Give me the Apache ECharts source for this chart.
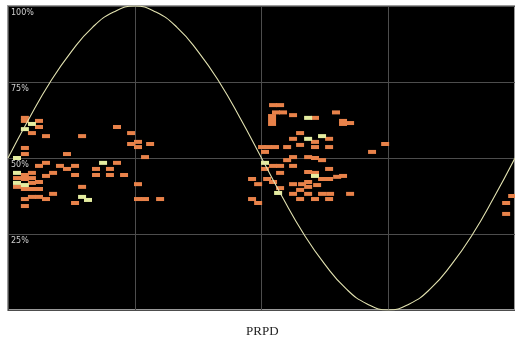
<!DOCTYPE html>
<html>
<head>
<meta charset="utf-8">
<script src="https://cdn.jsdelivr.net/npm/echarts@6/dist/echarts.min.js"></script>
<style>
  html, body { margin: 0; padding: 0; background: #fff; }
  #chart { width: 515px; height: 339px; }
</style>
</head>
<body>
<div id="chart"></div>
<script>
// phase in degrees, amplitude in %
const phaseTicks = [0, 90, 180, 270, 360];
const ampTicks = [0, 25, 50, 75, 100];

// reference sine curve, every 15 degrees
const sinePhase = [0, 15, 30, 45, 60, 75, 90, 105, 120, 135, 150, 165, 180,
  195, 210, 225, 240, 255, 270, 285, 300, 315, 330, 345, 360];
const sineAmp = [50, 63, 75, 85, 93, 98, 100, 98, 93, 85, 75, 63, 50,
  37, 25, 15, 7, 2, 0, 2, 7, 15, 25, 37, 50];

// discharge pulses (orange)
const pulsesOrange = [
  [12, 63.2], [12, 62.2], [22, 62.2], [22, 60.2], [17, 58.2], [27, 57.2],
  [52.6, 57.2], [77.4, 60.2], [87.4, 58.2], [87.4, 54.6], [92.3, 55.3],
  [92.3, 53.6], [100.9, 54.6], [12, 53.3], [12, 51.3], [41.9, 51.3],
  [97.3, 50.3], [27, 48.4], [77.4, 48.4], [22, 47.4], [36.9, 47.4],
  [41.9, 46.4], [47.6, 47.4], [62.5, 46.4], [72.4, 46.4], [12, 44.4],
  [17, 45.1], [32, 45.1], [27, 44.1], [47.6, 44.4], [62.5, 44.4],
  [72.4, 44.4], [82.4, 44.4], [6.4, 43.4], [6.4, 40.5], [12, 43.1],
  [17, 43.4], [17, 41.8], [22, 42.1], [52.6, 40.5], [12, 39.8], [17, 39.8],
  [22, 39.8], [32, 38.2], [12, 36.5], [17, 37.2], [22, 37.2], [27, 36.5],
  [47.6, 35.2], [12, 34.2], [92.3, 36.5], [97.3, 36.5], [108, 36.5],
  [92.3, 41.4],
  [188.2, 67.4], [193.2, 67.4], [190.3, 65], [195.3, 65], [202.4, 64.1],
  [187.5, 63.8], [187.5, 62.5], [187.5, 61.2], [218, 63.2], [232.9, 65],
  [237.9, 62.2], [242.9, 61.5], [237.9, 61.2], [207.4, 58.2], [202.4, 56.3],
  [218, 55.3], [228, 56.3], [207.4, 54.3], [180.4, 53.6], [184.7, 53.6],
  [189.6, 53.6], [198.2, 53.6], [218, 53.6], [228, 53.6], [267.8, 54.6],
  [258.5, 52], [182.5, 52], [202.4, 50.3], [198.2, 49.3], [213.1, 50.3],
  [218, 50], [223, 49.3], [188.2, 47.4], [193.2, 47.4], [202.4, 47.4],
  [182.5, 46.4], [228, 46.4], [213.1, 45.4], [218, 45.1], [193.2, 45.1],
  [173.3, 43.1], [177.6, 41.4], [184, 43.1], [188.2, 42.1], [202.4, 41.4],
  [208.8, 41.4], [213.1, 42.1], [213.1, 40.5], [223, 43.1], [228, 43.1],
  [233.7, 43.8], [237.9, 44.1], [193.2, 40.1], [207.4, 39.5], [202.4, 38.2],
  [213.1, 38.2], [223, 38.2], [228.7, 38.2], [242.9, 38.2], [173.3, 36.5],
  [177.6, 35.2], [207.4, 36.5], [218, 36.5], [228, 36.5], [219.5, 41.1],
  [358, 37.5], [353.7, 35.2], [353.7, 31.6]
];

// brighter pulses (pale yellow)
const pulsesYellow = [
  [17, 61.2], [12, 59.5], [6.4, 50], [67.5, 48.4], [6.4, 45.1], [6.4, 41.8],
  [12, 41.1], [52.6, 37.2], [56.8, 36.2],
  [213.1, 63.2], [223, 57.2], [213.1, 56.3], [182.5, 48.4], [218, 44.1],
  [191.8, 38.5]
];

const chartDom = document.getElementById("chart");
const myChart = echarts.init(chartDom);

const option = {
  animation: false,
  title: {
    text: "PRPD",
    left: 241,
    top: 320,
    textStyle: {
      fontFamily: "Liberation Serif",
      fontSize: 13,
      fontWeight: "normal",
      color: "#222"
    }
  },
  grid: {
    left: 8,
    right: 0,
    top: 6,
    bottom: 29,
    show: true,
    backgroundColor: "#000",
    borderColor: "#9a9a9a",
    borderWidth: 2
  },
  xAxis: {
    type: "value",
    min: phaseTicks[0],
    max: phaseTicks[phaseTicks.length - 1],
    interval: 90,
    axisLine: { show: false },
    axisTick: { show: false },
    axisLabel: { show: false },
    splitLine: {
      show: true,
      lineStyle: { color: "#4d4d4d", width: 1 }
    }
  },
  yAxis: {
    type: "value",
    min: ampTicks[0],
    max: ampTicks[ampTicks.length - 1],
    interval: 25,
    axisLine: { show: false },
    axisTick: { show: false },
    axisLabel: {
      inside: true,
      margin: 3,
      verticalAlign: "top",
      padding: [3, 0, 0, 0],
      showMinLabel: false,
      showMaxLabel: true,
      formatter: "{value}%",
      fontFamily: "DejaVu Sans",
      fontSize: 8,
      color: "#cfcfcf"
    },
    splitLine: {
      show: true,
      lineStyle: { color: "#4d4d4d", width: 1 }
    }
  },
  series: [
    {
      name: "orange",
      type: "scatter",
      symbol: "rect",
      symbolSize: [8, 4],
      data: pulsesOrange,
      itemStyle: { color: "#e8824a", opacity: 1 },
      z: 2
    },
    {
      name: "yellow",
      type: "scatter",
      symbol: "rect",
      symbolSize: [8, 4],
      data: pulsesYellow,
      itemStyle: { color: "#e4eca0", opacity: 1 },
      z: 3
    },
    {
      name: "sine",
      type: "line",
      smooth: true,
      showSymbol: false,
      data: sinePhase.map((p, i) => [p, sineAmp[i]]),
      lineStyle: { color: "#e2e2b0", width: 1.1 },
      z: 5
    }
  ]
};

myChart.setOption(option);
</script>
</body>
</html>
